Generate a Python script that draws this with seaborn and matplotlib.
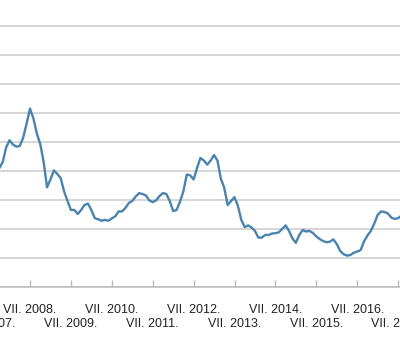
import matplotlib
matplotlib.use("Agg")
import matplotlib.pyplot as plt
import matplotlib.transforms as mtransforms
import seaborn as sns
import pandas as pd
import numpy as np

# Monthly series, Oct 2007 .. Aug 2017 (gridline units)
start_month = "2007-10"
values = [
    4.10, 4.31, 4.81, 5.06, 4.91, 4.84, 4.86, 5.15, 5.63,
    6.15, 5.81, 5.29, 4.93, 4.31, 3.44, 3.71, 4.02, 3.90, 3.76, 3.30, 2.97,
    2.66, 2.66, 2.52, 2.66, 2.83, 2.88, 2.66, 2.38, 2.34, 2.29, 2.32, 2.29,
    2.37, 2.44, 2.61, 2.61, 2.73, 2.90, 2.97, 3.12, 3.24, 3.21, 3.16, 2.99,
    2.93, 2.99, 3.14, 3.24, 3.21, 2.97, 2.62, 2.66, 2.94, 3.30, 3.88, 3.85,
    3.71, 4.10, 4.45, 4.36, 4.22, 4.36, 4.55, 4.36, 3.73, 3.42, 2.83, 2.97,
    3.10, 2.80, 2.32, 2.07, 2.13, 2.06, 1.94, 1.71, 1.71, 1.80, 1.80, 1.85,
    1.86, 1.89, 2.01, 2.13, 1.94, 1.68, 1.53, 1.80, 1.97, 1.92, 1.94, 1.87,
    1.75, 1.66, 1.59, 1.55, 1.57, 1.65, 1.49, 1.25, 1.14, 1.09, 1.11, 1.19,
    1.23, 1.28, 1.58, 1.78, 1.94, 2.19, 2.49, 2.61, 2.59, 2.54, 2.40, 2.35,
    2.38, 2.47,
]
even_years = [2008, 2010, 2012, 2014, 2016]
odd_years = [2007, 2009, 2011, 2013, 2015, 2017]
even_labels = [f"VII. {y}." for y in even_years]
odd_labels = [f"VII. {y}." for y in odd_years]
grid_levels = list(range(0, 10))

dates = pd.date_range(start_month, periods=len(values), freq="MS")
df = pd.DataFrame({"t": dates.year + (dates.month - 1) / 12.0, "v": values})

sns.set_theme(style="white")
plt.rcParams["font.family"] = ["Liberation Sans", "DejaVu Sans"]

fig = plt.figure(figsize=(4.0, 3.4), dpi=100)
unit_px = 29.07
axis_px = 287.3
ytop = 9.5
ax = fig.add_axes([0, (340 - axis_px) / 340, 1, ytop * unit_px / 340])

sns.lineplot(data=df, x="t", y="v", ax=ax, color="#4a84ae", linewidth=1.7)

ax.set_yticks(grid_levels)
ax.yaxis.grid(True, color="#cccccc", linewidth=1.1)
ax.xaxis.grid(False)
ax.tick_params(axis="y", left=False, labelleft=False)

fs = 9.0
ax.set_xticks([y + 0.5 for y in even_years])
ax.set_xticklabels(even_labels)
ax.set_xticks([y + 0.5 for y in odd_years], minor=True)
ax.tick_params(axis="x", which="both", direction="in", length=5, width=1,
               color="#bbbbbb", labelsize=fs, labelcolor="#222222", bottom=True)
ax.tick_params(axis="x", which="major", pad=12)

ax.set_xlim(2008.5 - 30 / 40.9, 2008.5 + 370 / 40.9)
ax.set_ylim(0, ytop)

# second row of labels (odd years), placed on the x data scale
base = mtransforms.blended_transform_factory(ax.transData, ax.transAxes)
row2 = mtransforms.offset_copy(base, fig=fig, x=0, y=-22, units="points")
for y, lab in zip(odd_years, odd_labels):
    ax.text(y + 0.5, 0, lab, transform=row2, ha="center", va="top",
            fontsize=fs, color="#222222", clip_on=False)

for s in ["left", "right", "top"]:
    ax.spines[s].set_visible(False)
ax.spines["bottom"].set_color("#bbbbbb")
ax.spines["bottom"].set_linewidth(1.1)
ax.set_xlabel("")
ax.set_ylabel("")

fig.savefig("out.png", dpi=100)
